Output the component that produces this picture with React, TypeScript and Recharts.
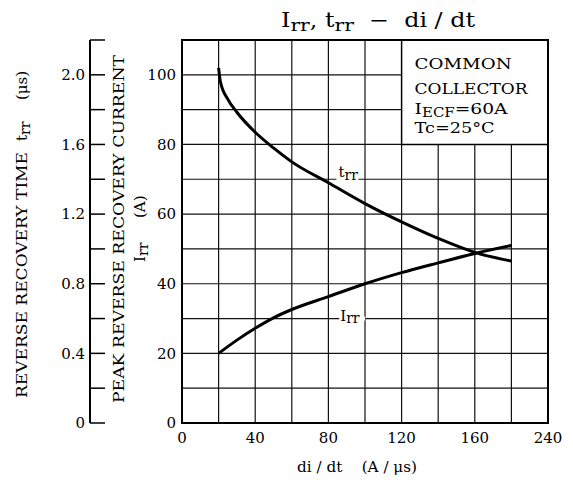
import React from "react";
import {
  ComposedChart,
  Line,
  XAxis,
  YAxis,
  CartesianGrid,
  ReferenceArea,
  ReferenceDot,
} from "recharts";

// ---- data ----
const trrDiDt = [20, 21, 25, 30, 40, 50, 60, 80, 100, 120, 140, 160, 180];
const trrMicros = [2.04, 1.96, 1.86, 1.785, 1.67, 1.58, 1.5, 1.38, 1.26, 1.155, 1.06, 0.98, 0.93];
const irrDiDt = [20, 30, 40, 50, 60, 80, 100, 120, 140, 160, 180];
const irrAmps = [20, 23.8, 27.2, 30.2, 32.6, 36.3, 40, 43.2, 46, 48.7, 51];

const xTicks = [0, 40, 80, 120, 160, 200];
const xTickLabels = ["0", "40", "80", "120", "160", "240"];
const irrTicks = [0, 20, 40, 60, 80, 100];
const trrTicks = [0, 0.2, 0.4, 0.6, 0.8, 1.0, 1.2, 1.4, 1.6, 1.8, 2.0, 2.2];
const trrTickLabels = ["0", "", "0.4", "", "0.8", "", "1.2", "", "1.6", "", "2.0", ""];
const gridX = [20, 40, 60, 80, 100, 120, 140, 160, 180];
const gridY = [10, 20, 30, 40, 50, 60, 70, 80, 90, 100];

const trrData = trrDiDt.map((x, i) => ({ x, y: trrMicros[i] }));
const irrData = irrDiDt.map((x, i) => ({ x, y: irrAmps[i] }));

const W = 557;
const H = 473;
const FONT = "DejaVu Serif";

const TrrTick = (props: any) => {
  const { x, y, payload } = props;
  const idx = trrTicks.indexOf(payload.value);
  const label = idx >= 0 ? trrTickLabels[idx] : "";
  return (
    <g>
      <line x1={x} x2={x + 15} y1={y} y2={y} stroke="#000" strokeWidth={1.5} />
      {label ? (
        <text x={x - 5} y={y} dy="0.36em" textAnchor="end" fontSize={15} fontFamily={FONT} fill="#000">
          {label}
        </text>
      ) : null}
    </g>
  );
};

const boxLabel = (props: any) => {
  const vb = props.viewBox || {};
  const x0 = vb.x + 13;
  const y0 = vb.y;
  return (
    <g fontFamily={FONT} fill="#000">
      <text x={x0} y={y0 + 29} fontSize={15} textLength={97} lengthAdjust="spacingAndGlyphs">COMMON</text>
      <text x={x0} y={y0 + 54} fontSize={15} textLength={113} lengthAdjust="spacingAndGlyphs">COLLECTOR</text>
      <text x={x0} y={y0 + 74} fontSize={15} textLength={93} lengthAdjust="spacingAndGlyphs">
        <tspan>I</tspan>
        <tspan dy={3} fontSize={12}>ECF</tspan>
        <tspan dy={-3}>=60A</tspan>
      </text>
      <text x={x0} y={y0 + 93} fontSize={14} textLength={80} lengthAdjust="spacingAndGlyphs">Tc=25°C</text>
    </g>
  );
};

const trrCurveLabel = (p: any) => (
  <g fontFamily={FONT} fill="#000">
    <rect x={p.cx - 11} y={p.cy - 2} width={22} height={4} fill="#fff" />
    <text x={p.cx - 9} y={p.cy - 2} fontSize={15}>
      <tspan>t</tspan>
      <tspan dy={3} fontSize={14}>rr</tspan>
    </text>
  </g>
);

const irrCurveLabel = (p: any) => (
  <g fontFamily={FONT} fill="#000">
    <rect x={p.cx - 13} y={p.cy - 2} width={26} height={4} fill="#fff" />
    <text x={p.cx - 12} y={p.cy + 2} fontSize={15}>
      <tspan>I</tspan>
      <tspan dy={2} fontSize={14}>rr</tspan>
    </text>
  </g>
);

export default function App() {
  return (
    <div style={{ position: "relative", width: W, height: H, background: "#fff" }}>
      <ComposedChart width={W} height={H} margin={{ top: 32, right: 17, bottom: 0, left: 0 }}>
        <CartesianGrid
          stroke="#111"
          strokeWidth={1.2}
          horizontalValues={gridY}
          verticalValues={gridX}
        />
        <XAxis
          type="number"
          dataKey="x"
          domain={[0, 200]}
          ticks={xTicks}
          tickFormatter={(v: number) => xTickLabels[xTicks.indexOf(v)]}
          tickLine={false}
          tickSize={0}
          tickMargin={9}
          height={58}
          axisLine={{ stroke: "#000", strokeWidth: 2 }}
          tick={{ fontSize: 15, fontFamily: FONT, fill: "#000" }}
          allowDataOverflow
        />
        <YAxis
          type="number"
          domain={[0, 110]}
          ticks={irrTicks}
          width={92}
          tickLine={false}
          tickSize={0}
          tickMargin={6}
          axisLine={{ stroke: "#000", strokeWidth: 2 }}
          tick={{ fontSize: 15, fontFamily: FONT, fill: "#000" }}
          allowDataOverflow
        />
        <YAxis
          yAxisId="trr"
          type="number"
          domain={[0, 2.2]}
          ticks={trrTicks}
          width={82}
          tickLine={false}
          tickSize={0}
          tickMargin={0}
          axisLine={{ stroke: "#000", strokeWidth: 2 }}
          tick={<TrrTick />}
          interval={0}
          allowDataOverflow
        />
        <ReferenceArea
          x1={120}
          x2={200}
          y1={80}
          y2={110}
          fill="#fff"
          fillOpacity={1}
          stroke="#000"
          strokeWidth={1.5}
          label={boxLabel}
        />
        <Line
          data={trrData}
          dataKey="y"
          yAxisId="trr"
          type="monotone"
          stroke="#000"
          strokeWidth={3}
          dot={false}
          isAnimationActive={false}
        />
        <Line
          data={irrData}
          dataKey="y"
          type="monotone"
          stroke="#000"
          strokeWidth={3}
          dot={false}
          isAnimationActive={false}
        />
        <ReferenceDot x={90.4} y={70} r={0} shape={trrCurveLabel} />
        <ReferenceDot x={93} y={30} r={0} shape={irrCurveLabel} />
        <ReferenceArea x1={0} x2={200} y1={0} y2={110} fill="none" stroke="#000" strokeWidth={2} />
      </ComposedChart>
      <svg
        width={W}
        height={H}
        style={{ position: "absolute", left: 0, top: 0, pointerEvents: "none" }}
        fontFamily={FONT}
      >
        <text x={273} y={19} fontSize={20} fill="#000" textLength={194} lengthAdjust="spacingAndGlyphs" xmlSpace="preserve">
          <tspan>I</tspan>
          <tspan dy={4} fontSize={17}>rr</tspan>
          <tspan dy={-4}>, t</tspan>
          <tspan dy={4} fontSize={17}>rr</tspan>
          <tspan dy={-4}>{"  −  di / dt"}</tspan>
        </text>
        <text x={289} y={464} fontSize={15} fill="#000" textLength={120} lengthAdjust="spacingAndGlyphs" xmlSpace="preserve">
          {"di / dt    (A / μs)"}
        </text>
        <text transform="translate(18.5,390) rotate(-90)" fontSize={15} fill="#000" textLength={246} lengthAdjust="spacingAndGlyphs">
          REVERSE RECOVERY TIME
        </text>
        <text transform="translate(18.5,133) rotate(-90)" fontSize={15} fill="#000">
          <tspan>t</tspan>
          <tspan dy={3} fontSize={14}>rr</tspan>
        </text>
        <text transform="translate(18.5,92) rotate(-90)" fontSize={15} fill="#000">(μs)</text>
        <text transform="translate(116,395) rotate(-90)" fontSize={15} fill="#000" textLength={348} lengthAdjust="spacingAndGlyphs">
          PEAK REVERSE RECOVERY CURRENT
        </text>
        <text transform="translate(137,210) rotate(-90)" fontSize={15} fill="#000">(A)</text>
        <text transform="translate(137,254) rotate(-90)" fontSize={15} fill="#000">
          <tspan>I</tspan>
          <tspan dy={3} fontSize={14}>rr</tspan>
        </text>
      </svg>
    </div>
  );
}
